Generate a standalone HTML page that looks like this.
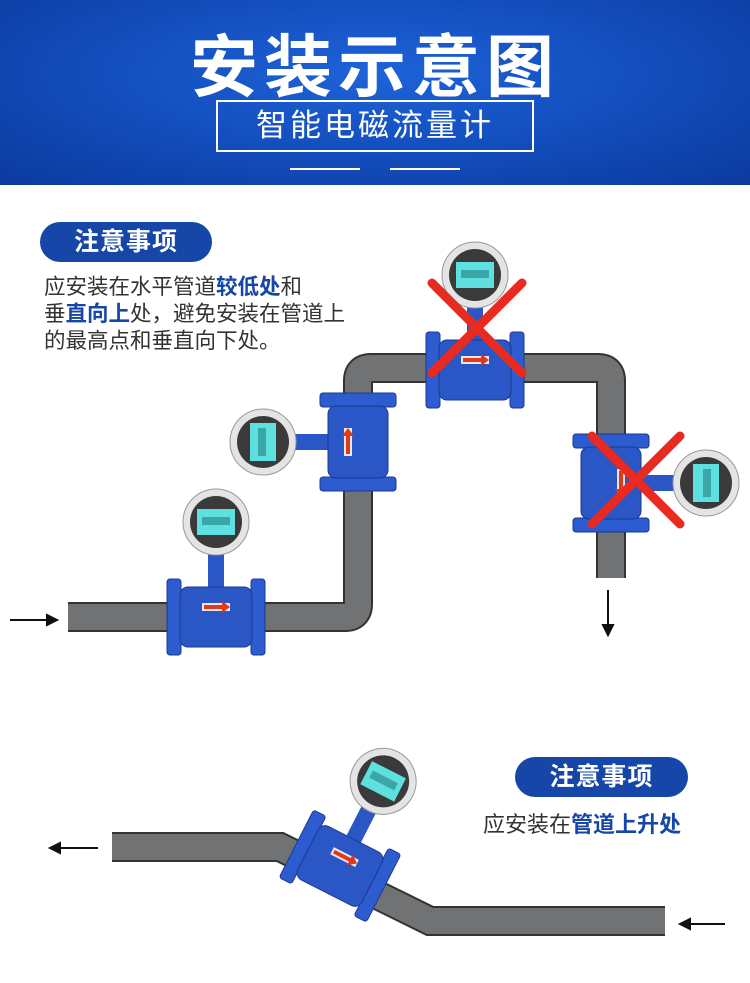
<!DOCTYPE html>
<html><head><meta charset="utf-8"><style>
html,body{margin:0;padding:0;}
body{width:750px;height:983px;position:relative;overflow:hidden;background:#fff;font-family:"Liberation Sans","Noto Sans CJK SC",sans-serif;}
.hdr{position:absolute;left:0;top:0;width:750px;height:185px;background:radial-gradient(ellipse at 50% 40%,#1e63d8 0%,#1450c0 45%,#0b3a9e 100%);}
.title{position:absolute;left:0;width:750px;top:12px;text-align:center;color:#fff;font-size:68px;font-weight:bold;letter-spacing:6px;}
.sub{position:absolute;left:216px;top:100px;width:314px;height:48px;border:2px solid #fff;color:#fff;font-size:31px;text-align:center;line-height:48px;letter-spacing:3px;}
.ln{position:absolute;top:168px;height:2px;background:#fff;width:70px;}
.pill{position:absolute;background:#1646a8;color:#fff;font-size:25px;font-weight:bold;text-align:center;line-height:40px;height:40px;border-radius:20px;letter-spacing:1px;}
.txt{position:absolute;color:#333;font-size:21.5px;line-height:27px;white-space:nowrap;}
.txt b{color:#1646a8;}
svg{position:absolute;left:0;top:0;}
</style></head><body>
<div class="hdr"></div>
<div class="title">安装示意图</div>
<div class="sub">智能电磁流量计</div>
<div class="ln" style="left:290px"></div><div class="ln" style="left:390px"></div>
<div class="pill" style="left:40px;top:222px;width:172px">注意事项</div>
<div class="txt" style="left:44px;top:274px">应安装在水平管道<b>较低处</b>和<br>垂<b>直向上</b>处，避免安装在管道上<br>的最高点和垂直向下处。</div>
<div class="pill" style="left:515px;top:757px;width:173px">注意事项</div>
<div class="txt" style="left:483px;top:811px;font-size:22px">应安装在<b>管道上升处</b></div>
<svg width="750" height="983" viewBox="0 0 750 983">
<defs>
<g id="m">
<line x1="0" y1="-25" x2="0" y2="-65" stroke="#2a56c6" stroke-width="16"/>
<rect x="-49" y="-38" width="14" height="76" rx="3" fill="#2d5bd0" stroke="#1a3a90"/>
<rect x="35" y="-38" width="14" height="76" rx="3" fill="#2d5bd0" stroke="#1a3a90"/>
<rect x="-36" y="-30" width="72" height="60" rx="8" fill="#2a56c6" stroke="#1a3a90"/>
<rect x="-14" y="-14" width="28" height="8" fill="#e8e8e8"/>
<polygon points="-12,-12 6,-12 6,-16 14,-10 6,-4 6,-8 -12,-8" fill="#e03a1a"/>
<rect x="-28" y="-92" width="56" height="14" fill="#2a56c6"/>
<circle cx="0" cy="-95" r="33" fill="#e4e4e4" stroke="#999"/>
<circle cx="0" cy="-95" r="26" fill="#3a3a3a"/>
<rect x="-19" y="-108" width="38" height="26" fill="#5ee0e0"/>
<rect x="-14" y="-100" width="28" height="8" fill="#1a6a70" opacity=".5"/>
</g>
</defs>
<path d="M68,617 H345 Q358,617 358,604 V381 Q358,368 371,368 H598 Q611,368 611,381 V578" fill="none" stroke="#333" stroke-width="30"/>
<path d="M68,617 H345 Q358,617 358,604 V381 Q358,368 371,368 H598 Q611,368 611,381 V578" fill="none" stroke="#717273" stroke-width="26"/>
<polyline points="112,847 280,847 430,921 665,921" fill="none" stroke="#333" stroke-width="30"/>
<polyline points="112,847 280,847 430,921 665,921" fill="none" stroke="#717273" stroke-width="26"/>
<use href="#m" transform="translate(216,617)"/>
<use href="#m" transform="translate(358,442) rotate(-90)"/>
<use href="#m" transform="translate(475,370)"/>
<use href="#m" transform="translate(611,483) rotate(90)"/>
<use href="#m" transform="translate(340,866) rotate(27)"/>
<g stroke="#e82a20" stroke-width="9" stroke-linecap="round">
<line x1="432" y1="283" x2="522" y2="373"/><line x1="522" y1="283" x2="432" y2="373"/>
<line x1="592" y1="436" x2="680" y2="524"/><line x1="680" y1="436" x2="592" y2="524"/>
</g>
<g stroke="#111" stroke-width="2" fill="#111">
<line x1="10" y1="620" x2="52" y2="620"/><polygon points="57,620 47,615 47,625"/>
<line x1="608" y1="590" x2="608" y2="628"/><polygon points="608,635 603,625 613,625"/>
<line x1="57" y1="848" x2="98" y2="848"/><polygon points="50,848 60,843 60,853"/>
<line x1="687" y1="924" x2="725" y2="924"/><polygon points="680,924 690,919 690,929"/>
</g>
</svg>
</body></html>
